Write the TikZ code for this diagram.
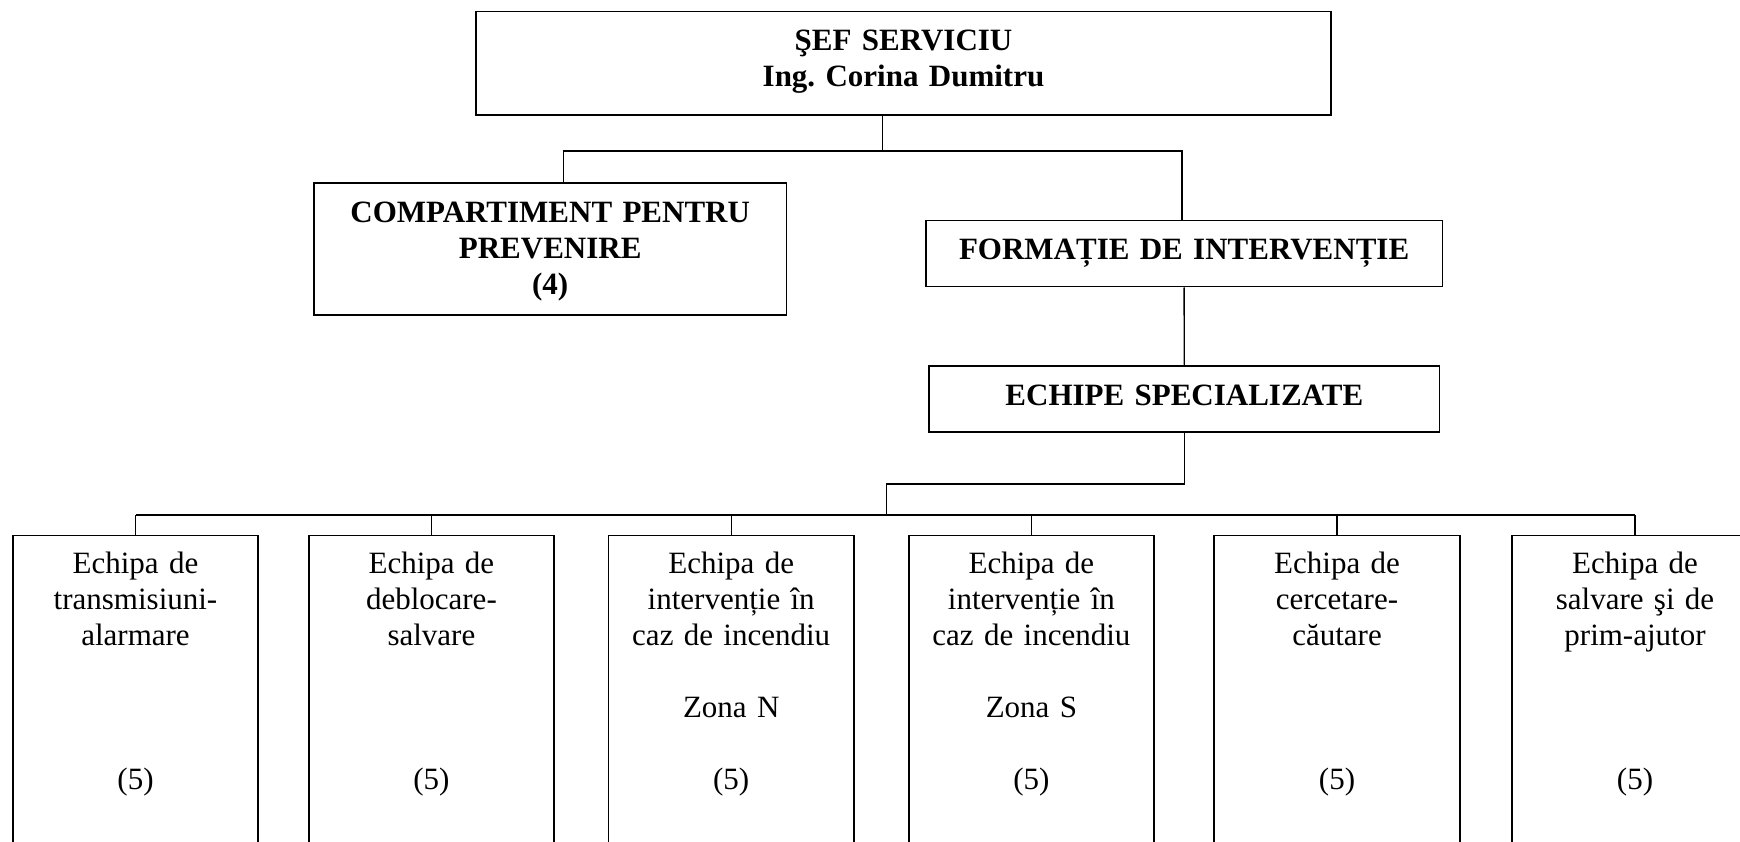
\documentclass[tikz,border=0pt]{standalone}
\usepackage{fontspec}
\setmainfont{Liberation Serif}
\frenchspacing

\tikzset{
  box/.style={draw, line width=1.8pt, anchor=north, align=center, inner xsep=0pt, inner ysep=14pt,
    text height=25.2pt, font=\fontsize{31}{36}\selectfont\bfseries},
  team/.style={box, text width=245.5pt, inner ysep=13pt, text depth=330pt,
    font=\fontsize{31}{36}\selectfont},
  link/.style={line width=1.4pt}
}

\begin{document}
\begin{tikzpicture}[x=1pt,y=-1pt]
   \useasboundingbox (0,0) rectangle (1740,842);
   % conducere
   \node[box, text width=855pt, text depth=50.4pt] (sef) at (903.5,10.7) {ŞEF SERVICIU\\Ing. Corina Dumitru};
   \node[box, text width=472.4pt, text depth=78.8pt] (comp) at (550.2,182.3) {COMPARTIMENT PENTRU\\PREVENIRE\\(4)};
   \node[box, text width=516.6pt, text depth=12.8pt] (form) at (1184.1,219.7) {FORMAȚIE DE INTERVENȚIE};
   \node[box, text width=510.2pt, text depth=12.8pt] (ech) at (1184.3,365) {ECHIPE SPECIALIZATE};

   % echipe
   \node[team] (t1) at (135.5,534.5) {Echipa de\\transmisiuni-\\alarmare\\[108pt](5)};
   \node[team] (t2) at (431.4,534.5) {Echipa de\\deblocare-\\salvare\\[108pt](5)};
   \node[team] (t3) at (731.2,534.5) {Echipa de\\intervenție în\\caz de incendiu\\[36pt]Zona N\\[36pt](5)};
   \node[team] (t4) at (1031.4,534.5) {Echipa de\\intervenție în\\caz de incendiu\\[36pt]Zona S\\[36pt](5)};
   \node[team] (t5) at (1337,534.5) {Echipa de\\cercetare-\\căutare\\[108pt](5)};
   \node[team] (t6) at (1635,534.5) {Echipa de\\salvare şi de\\prim-ajutor\\[108pt](5)};

   % legaturi
   \draw[link] ([xshift=-21pt]sef.south) -- ++(0,35) coordinate (j1);
   \draw[link] (j1) -| ([xshift=13.5pt]comp.north);
   \draw[link] (j1) -| ([xshift=-2pt]form.north);
   \draw[link] (form) -- (ech);
   \coordinate (j2) at (886.5,515);
   \draw[link] (ech.south) -- ++(0,51) -| (j2);
   \draw[link] (t1.north |- j2) -- (t6.north |- j2);
   \foreach \t in {t1,t2,t3,t4,t5,t6}
      \draw[link] (\t.north) -- (\t.north |- j2);
\end{tikzpicture}
\end{document}
